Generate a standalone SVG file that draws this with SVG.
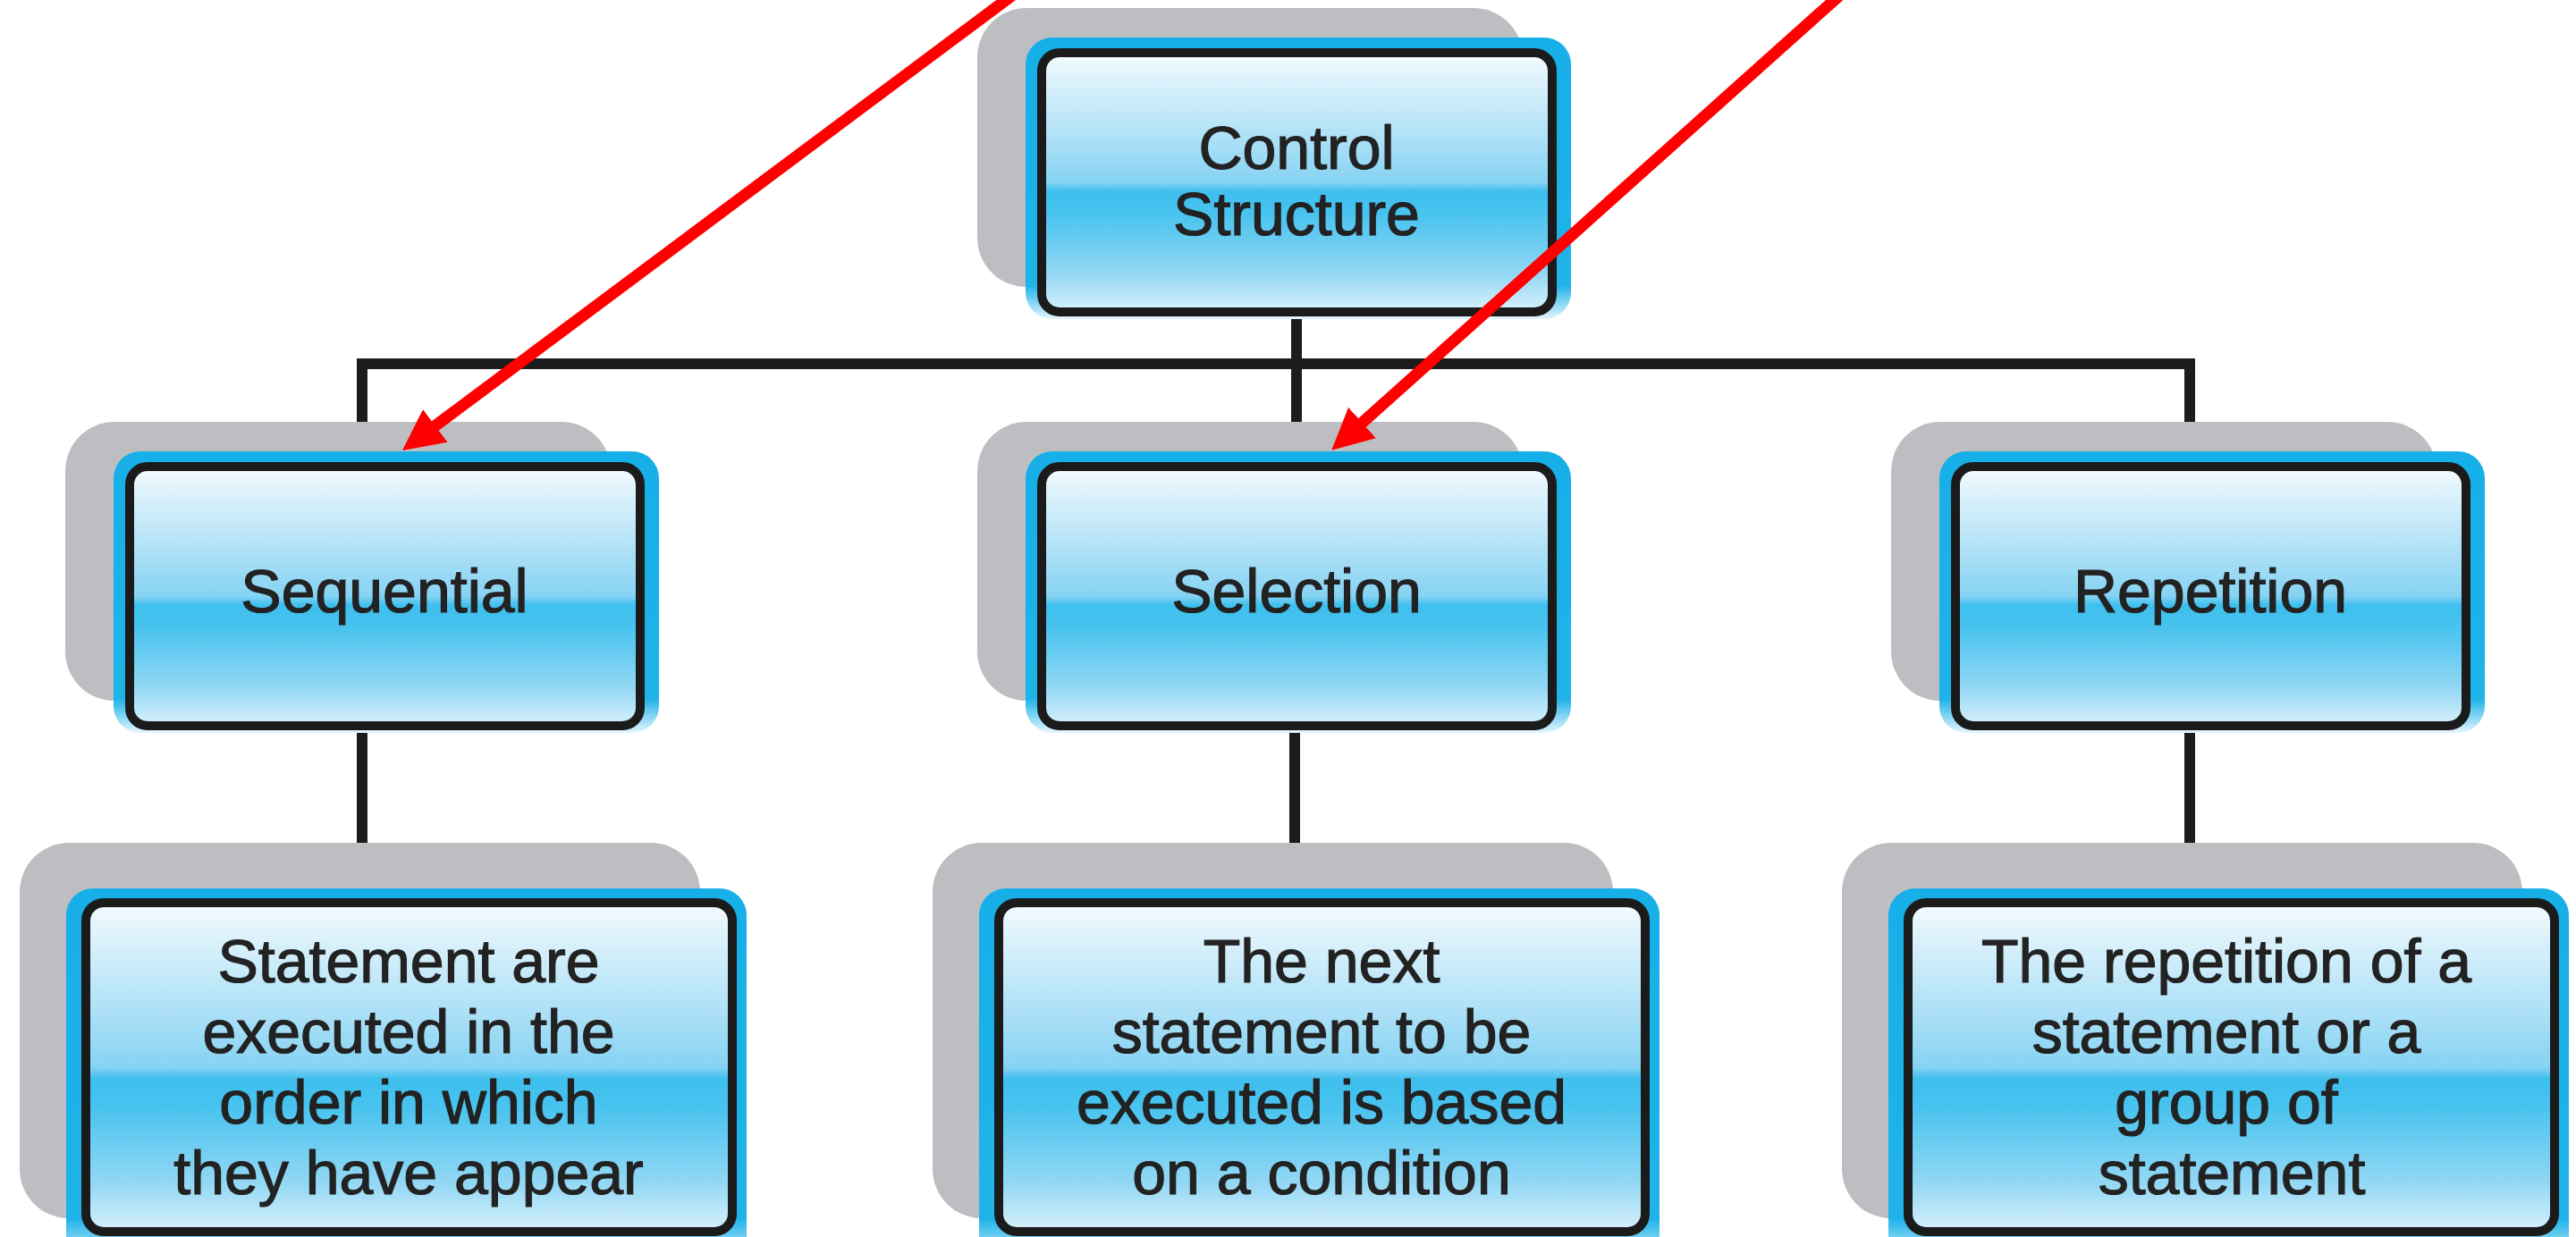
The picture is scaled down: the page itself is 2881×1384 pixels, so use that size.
<svg xmlns="http://www.w3.org/2000/svg" width="2881" height="1384" viewBox="0 0 2881 1384">
  <defs>
    <linearGradient id="face" x1="0" y1="0" x2="0" y2="1">
      <stop offset="0" stop-color="#f5fbfe"/>
      <stop offset="0.08" stop-color="#e2f4fc"/>
      <stop offset="0.35" stop-color="#a9dff6"/>
      <stop offset="0.50" stop-color="#86d3f3"/>
      <stop offset="0.535" stop-color="#3ebfee"/>
      <stop offset="0.62" stop-color="#48c3ef"/>
      <stop offset="0.85" stop-color="#92d7f4"/>
      <stop offset="1" stop-color="#d9f1fc"/>
    </linearGradient>
    <linearGradient id="rim" x1="0" y1="0" x2="0" y2="1">
      <stop offset="0" stop-color="#17afe8"/>
      <stop offset="0.88" stop-color="#1fb3e9"/>
      <stop offset="1" stop-color="#e6f6fd"/>
    </linearGradient>
    <marker id="redhead" viewBox="0 -24 46 48" markerWidth="46" markerHeight="48" refX="6" refY="0" orient="auto" markerUnits="userSpaceOnUse">
      <path d="M0,-23 L46,0 L0,23 Z" fill="#ff0000"/>
    </marker>
    <style>
      .shadow { fill: #bdbec1; }
      .rim { fill: url(#rim); }
      .face { fill: url(#face); stroke: #1b1b1b; stroke-width: 10; }
      .label { font-family: "Liberation Sans", Arial, Helvetica, sans-serif; font-size: 68px; fill: #222222; stroke: #222222; stroke-width: 1.2; text-anchor: middle; }
      .link { fill: none; stroke: #1c1c1c; stroke-width: 12; stroke-linejoin: miter; stroke-linecap: butt; }
      .pointer { fill: none; stroke: #ff0000; stroke-width: 13; marker-end: url(#redhead); }
    </style>
  </defs>

  <rect width="2881" height="1384" fill="#ffffff"/>

  <!-- tree connectors -->
  <g id="connectors">
    <path class="link" d="M1450,349 V407"/>
    <path class="link" d="M405,472 V407 H2449 V472"/>
    <path class="link" d="M1450,407 V472"/>
    <path class="link" d="M405,812 V943"/>
    <path class="link" d="M1448,812 V943"/>
    <path class="link" d="M2449,812 V943"/>
  </g>

  <!-- level 0 -->
  <g id="node-control-structure">
    <rect class="shadow" x="1093" y="9" width="610" height="312" rx="55"/>
    <rect class="rim" x="1147" y="42" width="610" height="315" rx="30"/>
    <rect class="face" x="1165" y="59" width="571" height="290" rx="20"/>
    <text class="label" x="1450" y="189">Control</text>
    <text class="label" x="1450" y="263">Structure</text>
  </g>

  <!-- level 1 -->
  <g id="node-sequential">
    <rect class="shadow" x="73" y="472" width="610" height="312" rx="55"/>
    <rect class="rim" x="127" y="505" width="610" height="315" rx="30"/>
    <rect class="face" x="145" y="522" width="571" height="290" rx="20"/>
    <text class="label" x="430" y="685">Sequential</text>
  </g>

  <g id="node-selection">
    <rect class="shadow" x="1093" y="472" width="610" height="312" rx="55"/>
    <rect class="rim" x="1147" y="505" width="610" height="315" rx="30"/>
    <rect class="face" x="1165" y="522" width="571" height="290" rx="20"/>
    <text class="label" x="1450" y="685">Selection</text>
  </g>

  <g id="node-repetition">
    <rect class="shadow" x="2115" y="472" width="610" height="312" rx="55"/>
    <rect class="rim" x="2169" y="505" width="610" height="315" rx="30"/>
    <rect class="face" x="2187" y="522" width="571" height="290" rx="20"/>
    <text class="label" x="2472" y="685">Repetition</text>
  </g>

  <!-- level 2 -->
  <g id="node-sequential-desc">
    <rect class="shadow" x="22" y="943" width="761" height="420" rx="55"/>
    <rect class="rim" x="74" y="994" width="761" height="420" rx="30"/>
    <rect class="face" x="96" y="1010" width="723" height="368" rx="20"/>
    <text class="label" x="457" y="1099">Statement are</text>
    <text class="label" x="457" y="1178">executed in the</text>
    <text class="label" x="457" y="1257">order in which</text>
    <text class="label" x="457" y="1336">they have appear</text>
  </g>

  <g id="node-selection-desc">
    <rect class="shadow" x="1043" y="943" width="761" height="420" rx="55"/>
    <rect class="rim" x="1095" y="994" width="761" height="420" rx="30"/>
    <rect class="face" x="1117" y="1010" width="723" height="368" rx="20"/>
    <text class="label" x="1478" y="1099">The next</text>
    <text class="label" x="1478" y="1178">statement to be</text>
    <text class="label" x="1478" y="1257">executed is based</text>
    <text class="label" x="1478" y="1336">on a condition</text>
  </g>

  <g id="node-repetition-desc">
    <rect class="shadow" x="2060" y="943" width="761" height="420" rx="55"/>
    <rect class="rim" x="2112" y="994" width="761" height="420" rx="30"/>
    <rect class="face" x="2134" y="1010" width="723" height="368" rx="20"/>
    <text class="label" x="2490" y="1099">The repetition of a</text>
    <text class="label" x="2490" y="1178">statement or a</text>
    <text class="label" x="2490" y="1257">group of</text>
    <text class="label" x="2496" y="1336">statement</text>
  </g>

  <!-- red pointer arrows -->
  <g id="pointers">
    <line class="pointer" x1="1152" y1="-20" x2="482" y2="480"/>
    <line class="pointer" x1="2074" y1="-20" x2="1519" y2="477"/>
  </g>
</svg>
